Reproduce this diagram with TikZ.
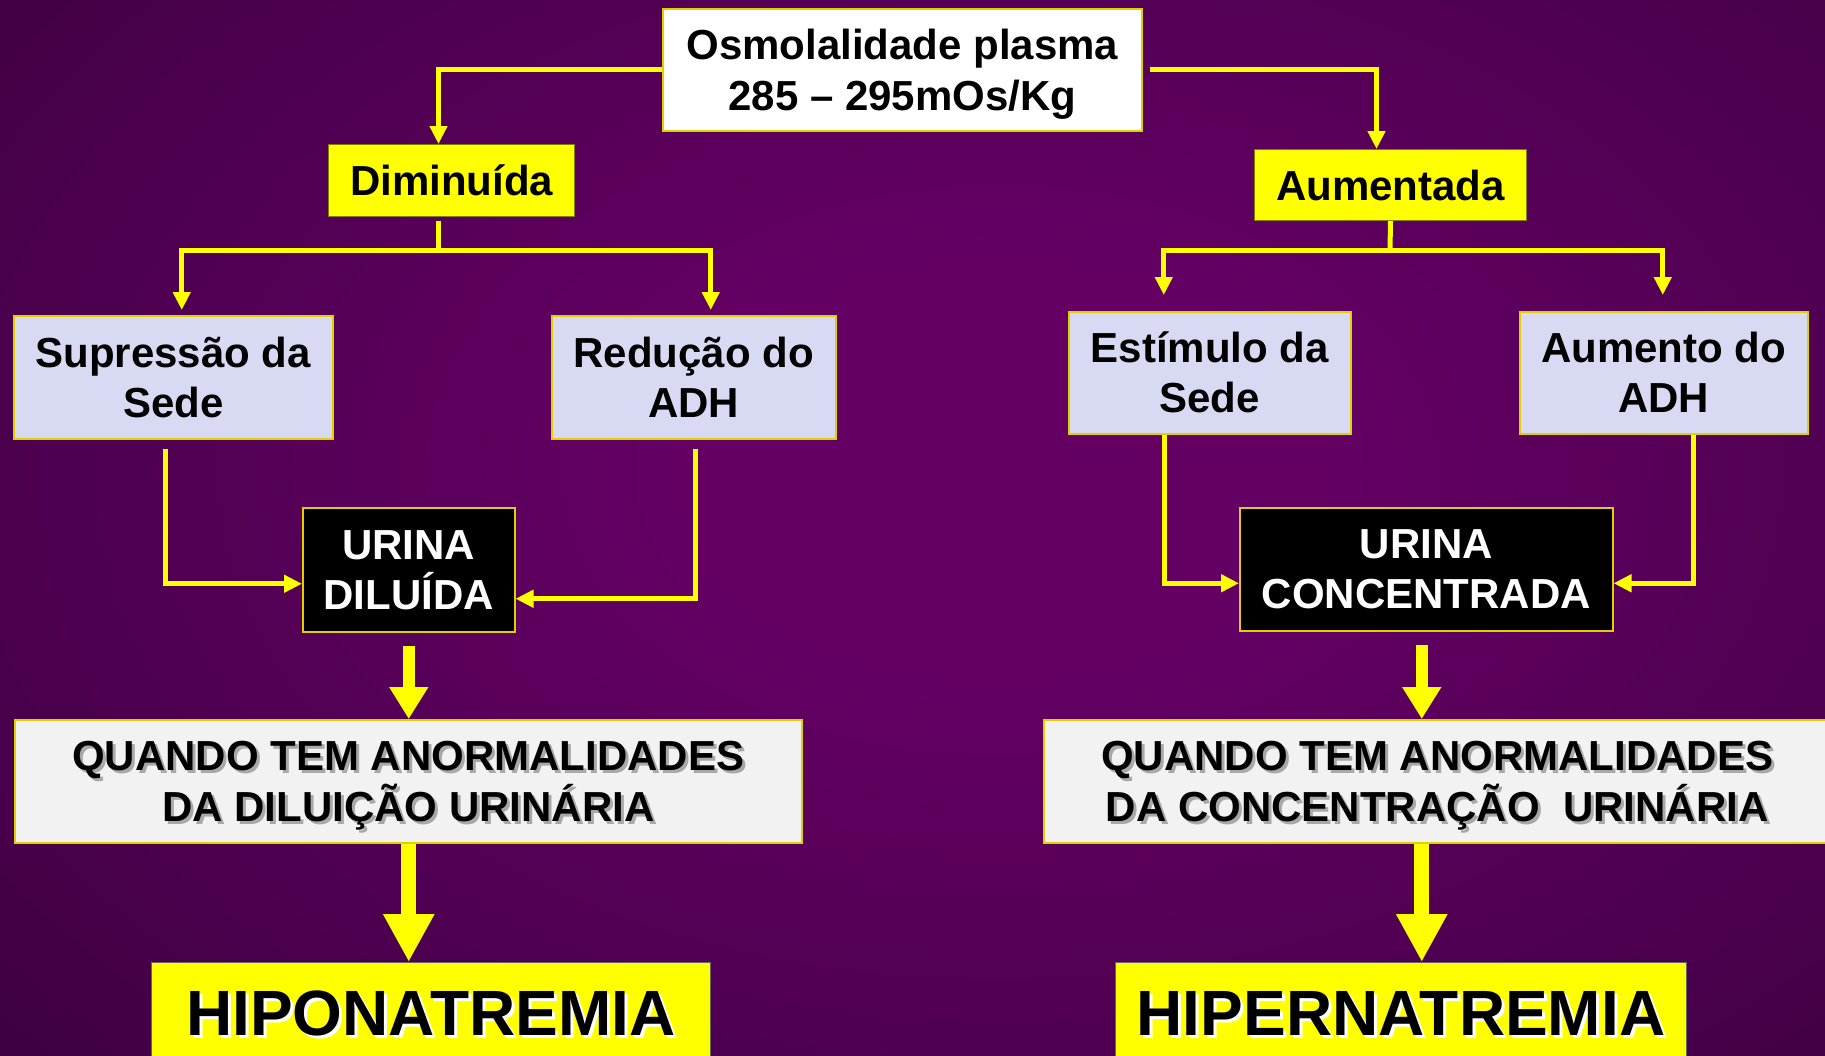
\documentclass[tikz,border=0pt]{standalone}
\usepackage{fontspec}
\setmainfont{Liberation Sans}
\usetikzlibrary{arrows.meta,calc}
\definecolor{bgin}{HTML}{640064}
\definecolor{bgout}{HTML}{2A0030}
\definecolor{lav}{HTML}{D8DAF4}
\definecolor{qfill}{HTML}{F2F2F2}
\definecolor{boxline}{HTML}{E0D000}
\definecolor{yel}{HTML}{FFFF00}
\definecolor{shadowgray}{HTML}{A8A8A8}
\pgfdeclareradialshading{bgshade}{\pgfpoint{0bp}{0bp}}{color(0bp)=(bgin); color(8bp)=(bgin); color(47bp)=(bgout); color(80bp)=(bgout)}
\tikzset{
  box/.style={draw=boxline, line width=1.5pt, inner sep=0pt, align=center, anchor=north west,
    font=\fontsize{42}{50}\selectfont\bfseries},
  ybox/.style={box, fill=yel, draw=black!50!yel, line width=1pt},
  lbox/.style={box, fill=lav},
  ubox/.style={box, fill=black, text=white},
  qtxt/.style={inner sep=0pt, align=center, font=\fontsize{42}{51}\selectfont\bfseries},
  htxt/.style={inner sep=0pt, font=\fontsize{64}{70}\selectfont\bfseries},
  yline/.style={draw=yel, line width=5pt},
  conn/.style={yline, -{Triangle[width=17pt,length=18pt]}},
  thickA/.style={draw=yel, line width=12pt, -{Triangle[width=37pt,length=32pt]}},
  thickB/.style={draw=yel, line width=15pt, -{Triangle[width=48pt,length=48pt]}}
}
\begin{document}
\begin{tikzpicture}[x=1pt,y=-1pt]
\useasboundingbox (0,0) rectangle (1825,1055);
\clip (0,0) rectangle (1825,1055);
\shade[shading=bgshade] (0,-180) rectangle (2000,1120);

% boxes
\node[box, fill=white, minimum width=479pt, minimum height=122pt] (top) at (662,8) {};
\node[qtxt] (topt) at ($(top.center)+(0,4)$) {Osmolalidade plasma\\285 – 295mOs/Kg};
\node[ybox, minimum width=246pt, minimum height=72pt] (dim) at (328,144) {Diminuída};
\node[ybox, minimum width=272pt, minimum height=71pt] (aum) at (1254,149) {Aumentada};
\node[lbox, minimum width=319pt, minimum height=123pt] (sup) at (13,315) {Supressão da\\Sede};
\node[lbox, minimum width=284pt, minimum height=123pt] (red) at (551,315) {Redução do\\ADH};
\node[lbox, minimum width=282pt, minimum height=122pt] (est) at (1068,311) {Estímulo da\\Sede};
\node[lbox, minimum width=288pt, minimum height=122pt] (adh) at (1519,311) {Aumento do\\ADH};
\node[ubox, minimum width=212pt, minimum height=124pt] (u1) at (302,507) {URINA\\DILUÍDA};
\node[ubox, minimum width=373pt, minimum height=123pt] (u2) at (1239,507) {URINA\\CONCENTRADA};
\node[box, fill=qfill, minimum width=787pt, minimum height=123pt] (q1) at (14,719) {};
\node[box, fill=qfill, minimum width=787pt, minimum height=123pt] (q2) at (1043,719) {};
\node[qtxt, text=shadowgray] (q1s) at ($(q1.center)+(3,7)$) {QUANDO TEM ANORMALIDADES\\DA DILUIÇÃO URINÁRIA};
\node[qtxt] (q1t) at ($(q1.center)+(0,4)$) {QUANDO TEM ANORMALIDADES\\DA DILUIÇÃO URINÁRIA};
\node[qtxt, text=shadowgray] (q2s) at ($(q2.center)+(3,7)$) {QUANDO TEM ANORMALIDADES\\DA CONCENTRAÇÃO\ \ URINÁRIA};
\node[qtxt] (q2t) at ($(q2.center)+(0,4)$) {QUANDO TEM ANORMALIDADES\\DA CONCENTRAÇÃO\ \ URINÁRIA};
\node[box, fill=yel, draw=black!60, line width=1pt, minimum width=559pt, minimum height=102pt] (h1) at (151,962) {};
\node[box, fill=yel, draw=black!60, line width=1pt, minimum width=571pt, minimum height=102pt] (h2) at (1115,962) {};
\node[htxt, text=white] (h1s) at ($(h1.center)+(3,3)$) {HIPONATREMIA};
\node[htxt] (h1t) at (h1.center) {HIPONATREMIA};
\node[htxt, text=white] (h2s) at ($(h2.center)+(3,3)$) {HIPERNATREMIA};
\node[htxt] (h2t) at (h2.center) {HIPERNATREMIA};

% connectors from top
\draw[conn] (top.west) -| ($(dim.north)+(-13,0)$);
\draw[conn] ($(top.east)+(7,0)$) -| ($(aum.north)+(-14,0)$);

% left branch
\coordinate (dj) at (438,250);
\draw[yline] ($(dim.south -| dj)+(0,4)$) -- (dj);
\draw[conn] (dj) -| ($(sup.north)+(8.5,-5)$);
\draw[conn] (dj) -| ($(red.north)+(17,-5)$);

% right branch
\coordinate (aj) at (1390,250);
\draw[yline] (aum.south) -- (aj);
\draw[conn] (aj) -| ($(est.north)+(-46,-16)$);
\draw[conn] (aj) -| ($(adh.north)+(-1,-16)$);

% into urine boxes
\draw[conn] ($(sup.south)+(-7.5,9)$) |- ($(u1.west)+(0,14)$);
\draw[conn] ($(red.south)+(2,9)$) |- ($(u1.east)+(0,29)$);
\draw[conn] ($(est.south)+(-45,0)$) |- ($(u2.west)+(0,14)$);
\draw[conn] ($(adh.south)+(30,0)$) |- ($(u2.east)+(0,14)$);

% thick arrows
\coordinate (a1) at ($(u1.south)+(0,13)$);
\coordinate (a2) at ($(u2.south)+(-4.5,13)$);
\draw[thickA] (a1) -- (a1 |- q1.north);
\draw[thickA] (a2) -- (a2 |- q2.north);
\coordinate (b1) at (a1 |- q1.south);
\coordinate (b2) at (a2 |- q2.south);
\draw[thickB] (b1) -- (b1 |- h1.north);
\draw[thickB] (b2) -- (b2 |- h2.north);
\end{tikzpicture}
\end{document}
